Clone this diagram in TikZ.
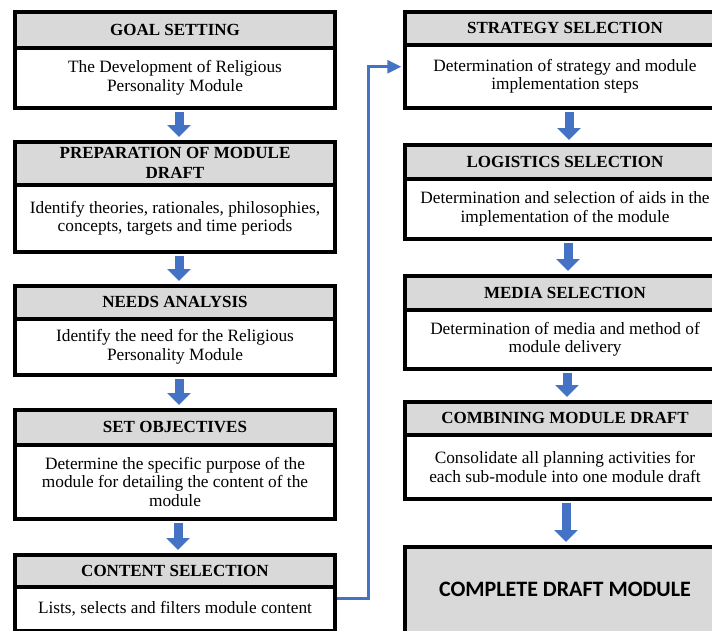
\documentclass[tikz,border=0pt]{standalone}
\usepackage{fontspec}
\setmainfont{Liberation Serif}
\newfontfamily\calibfont{Carlito}
\usetikzlibrary{arrows.meta,calc}
\definecolor{hdrgray}{HTML}{D9D9D9}
\definecolor{flowblue}{HTML}{4472C4}
\tikzset{
  boxbase/.style={draw=black, line width=3.5pt, inner sep=0pt, anchor=north, align=center, minimum width=320pt},
  hdr/.style={boxbase, fill=hdrgray, font=\bfseries\fontsize{17}{20}\selectfont},
  bodybox/.style={boxbase, fill=white, font=\fontsize{17.3}{18.5}\selectfont},
  finalbox/.style={boxbase, fill=hdrgray, font=\calibfont\bfseries\fontsize{22}{26}\selectfont},
  blockarrow/.style={draw=flowblue, line width=9pt, -{Triangle[width=23pt,length=12pt]}, shorten <=2pt, shorten >=3pt},
  conn/.style={draw=flowblue, line width=3pt, -{Triangle[width=13pt,length=14pt]}, shorten >=2pt}
}
\begin{document}
\begin{tikzpicture}[x=1pt,y=-1pt]
\useasboundingbox (0,0) rectangle (712,630);
\fill[white] (0,0) rectangle (712,630);
\clip (0,0) rectangle (712,630);
% left column
\node[hdr, minimum height=36pt] (gh) at (175,10) {GOAL SETTING};
\node[bodybox, minimum height=60pt] (gb) at (175,46) {The Development of Religious\\Personality Module};
\node[hdr, minimum height=43pt] (ph) at (175,140) {PREPARATION OF MODULE\\DRAFT};
\node[bodybox, minimum height=67pt] (pb) at (175,183) {Identify theories, rationales, philosophies,\\concepts, targets and time periods};
\node[hdr, minimum height=33pt] (nh) at (175,284) {NEEDS ANALYSIS};
\node[bodybox, minimum height=56pt] (nb) at (175,317) {Identify the need for the Religious\\Personality Module};
\node[hdr, minimum height=35pt] (oh) at (175,408) {SET OBJECTIVES};
\node[bodybox, minimum height=74pt] (ob) at (175,443) {Determine the specific purpose of the\\module for detailing the content of the\\module};
\node[hdr, minimum height=32pt] (ch) at (175,553) {CONTENT SELECTION};
\node[bodybox, minimum height=44pt] (cb) at (175,585) {Lists, selects and filters module content};
% right column
\node[hdr, minimum height=33pt] (sh) at (565,10) {STRATEGY SELECTION};
\node[bodybox, minimum height=63pt] (sb) at (565,43) {Determination of strategy and module\\implementation steps};
\node[hdr, minimum height=34pt] (lh) at (565,143) {LOGISTICS SELECTION};
\node[bodybox, minimum height=60pt] (lb) at (565,177) {Determination and selection of aids in the\\implementation of the module};
\node[hdr, minimum height=34pt] (mh) at (565,274) {MEDIA SELECTION};
\node[bodybox, minimum height=59pt] (mb) at (565,308) {Determination of media and method of\\module delivery};
\node[hdr, minimum height=33pt] (kh) at (565,400) {COMBINING MODULE DRAFT};
\node[bodybox, minimum height=64pt] (kb) at (565,433) {Consolidate all planning activities for\\each sub-module into one module draft};
\node[finalbox, minimum height=86pt] (fin) at (565,545) {COMPLETE DRAFT MODULE};
% block arrows
\draw[blockarrow] ([xshift=4pt]gb.south) -- ([xshift=4pt]ph.north);
\draw[blockarrow] ([xshift=4pt]pb.south) -- ([xshift=4pt]nh.north);
\draw[blockarrow] ([xshift=4pt]nb.south) -- ([xshift=4pt]oh.north);
\draw[blockarrow] ([xshift=3pt]ob.south) -- ([xshift=3pt]ch.north);
\draw[blockarrow] ([xshift=4pt]sb.south) -- ([xshift=4pt]lh.north);
\draw[blockarrow] ([xshift=3pt]lb.south) -- ([xshift=3pt]mh.north);
\draw[blockarrow] ([xshift=2pt]mb.south) -- ([xshift=2pt]kh.north);
\draw[blockarrow] ([xshift=1pt]kb.south) -- ([xshift=1pt]fin.north);
% connector
\coordinate (bend) at (368,65);
\draw[conn] ([yshift=-13pt]cb.north east) -| (bend) |- ([yshift=9.5pt]sb.west);
\end{tikzpicture}
\end{document}
